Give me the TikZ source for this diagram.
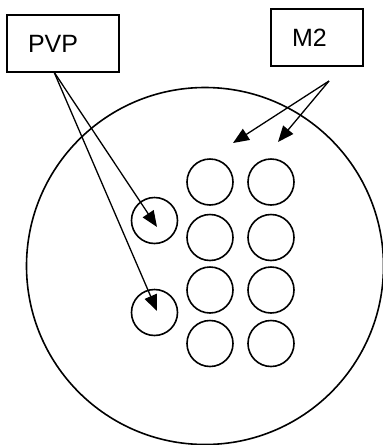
\documentclass[tikz,border=0pt]{standalone}
\usepackage{fontspec}
\setmainfont{Liberation Sans}
\usetikzlibrary{arrows.meta}
\begin{document}
\begin{tikzpicture}[x=1pt,y=-1pt,line width=1.6pt,
  labelbox/.style={draw,minimum height=57pt,inner xsep=21pt,inner ysep=0pt,
    align=left,font=\fontsize{25}{28}\selectfont},
  cell/.style={draw,circle,minimum size=46pt,inner sep=0pt},
  pointer/.style={-{Triangle[length=16pt,width=13pt]},line width=1.3pt}]
  \useasboundingbox (0,0) rectangle (383,445);

  % outer disc
  \node[draw,circle,minimum size=357pt,inner sep=0pt] (disc) at (205,266) {};

  % label boxes
  \node[labelbox,text width=70pt] (pvp) at (63,43.5) {PVP};
  \node[labelbox,text width=50pt] (m2) at (317,37.5) {M2};

  % two single cells on the left
  \node[cell] (p1) at (154.5,220.5) {};
  \node[cell] (p2) at (154.5,312.5) {};

  % grid of cells, two columns by four rows
  \foreach \r/\y in {1/182,2/237.5,3/290,4/343.5}{
    \node[cell] (a\r) at (210,\y) {};
    \node[cell] (b\r) at (271,\y) {};
  }

  % arrow anchors
  \coordinate (pvpfoot) at (54,72);
  \coordinate (m2foot) at (329,81);
  \coordinate (t1) at (157,227);
  \coordinate (t2) at (157,311);
  \coordinate (t3) at (233,143);
  \coordinate (t4) at (278,142);

  \draw[pointer] (pvpfoot) -- (t1);
  \draw[pointer] (pvpfoot) -- (t2);
  \draw[pointer] (m2foot) -- (t3);
  \draw[pointer] (m2foot) -- (t4);
\end{tikzpicture}
\end{document}
